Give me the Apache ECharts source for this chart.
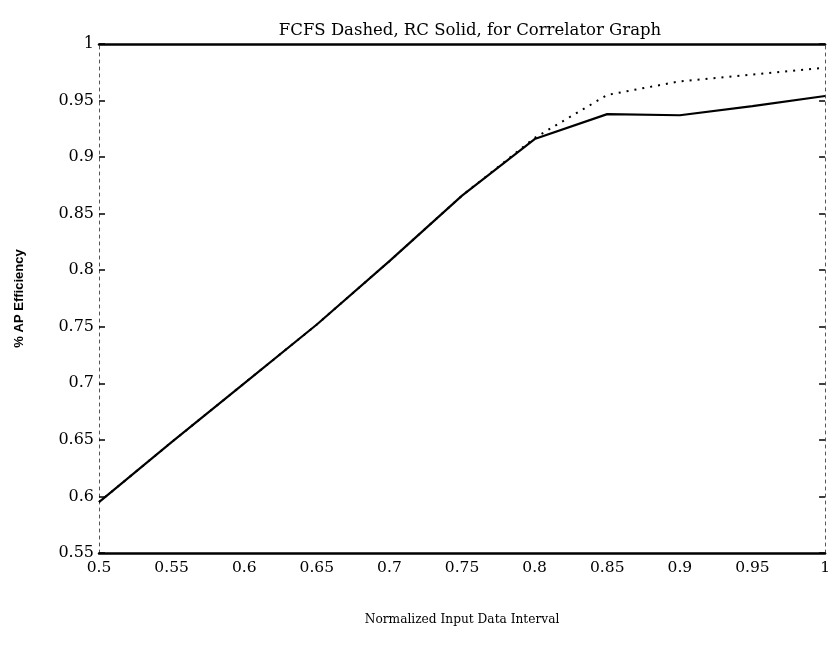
<!DOCTYPE html>
<html>
<head>
<meta charset="utf-8">
<script src="https://cdn.jsdelivr.net/npm/echarts@6/dist/echarts.min.js"></script>
<style>
html,body{margin:0;padding:0;background:#fff;}
#chart{width:833px;height:662px;}
</style>
</head>
<body>
<div id="chart"></div>
<script>
var xValues = [0.5, 0.55, 0.6, 0.65, 0.7, 0.75, 0.8, 0.85, 0.9, 0.95, 1.0];
var rcSolid = [0.595, 0.648, 0.700, 0.752, 0.808, 0.866, 0.916, 0.938, 0.937, 0.945, 0.954];
var fcfsDashed = [0.595, 0.648, 0.700, 0.752, 0.808, 0.866, 0.917, 0.955, 0.967, 0.973, 0.979];
var xTickLabels = ['0.5','0.55','0.6','0.65','0.7','0.75','0.8','0.85','0.9','0.95','1'];
var yTickLabels = ['0.55','0.6','0.65','0.7','0.75','0.8','0.85','0.9','0.95','1'];

function pairs(xs, ys){ return xs.map(function(x,i){ return [x, ys[i]]; }); }
function xLab(v){ var i = Math.round((v-0.5)/0.05); return xTickLabels[i] || ''; }
function yLab(v){ var i = Math.round((v-0.55)/0.05); return yTickLabels[i] || ''; }

var serif = 'DejaVu Serif';
var chart = echarts.init(document.getElementById('chart'), null, {renderer:'canvas'});
chart.setOption({
  animation: false,
  backgroundColor: '#fff',
  title: {
    text: 'FCFS Dashed, RC Solid, for Correlator Graph',
    left: 465, top: 17, textAlign: 'center',
    textStyle: {fontFamily: serif, fontSize: 16.5, fontWeight: 'normal', color: '#000'}
  },
  grid: {left: 99, right: 2, top: 44, bottom: 109},
  xAxis: [{
    type: 'value', min: 0.5, max: 1.0, interval: 0.05, position: 'bottom',
    name: 'Normalized Input Data Interval', nameLocation: 'middle', nameGap: 61,
    nameTextStyle: {fontFamily: serif, fontSize: 12.2, color: '#000'},
    axisLine: {show: true, lineStyle: {color: '#000', width: 2.5}},
    axisTick: {show: false},
    splitLine: {show: false},
    axisLabel: {formatter: xLab, fontFamily: serif, fontSize: 15.5, color: '#000', margin: 7}
  },{
    type: 'value', min: 0.5, max: 1.0, interval: 0.05, position: 'top',
    axisLine: {show: true, lineStyle: {color: '#000', width: 2.5}},
    axisTick: {show: false}, axisLabel: {show: false}, splitLine: {show: false}
  }],
  yAxis: [{
    type: 'value', min: 0.55, max: 1.0, interval: 0.05, position: 'left',
    name: '% AP Efficiency', nameLocation: 'middle', nameGap: 73,
    nameTextStyle: {fontFamily: 'Liberation Sans', fontSize: 13, fontWeight: 'bold', color: '#000'},
    axisLine: {show: true, lineStyle: {color: '#555', width: 1, type: [3,4]}},
    axisTick: {show: true, inside: true, length: 6, lineStyle: {color: '#000', width: 1.5}},
    splitLine: {show: false},
    axisLabel: {formatter: yLab, fontFamily: serif, fontSize: 16, color: '#000', margin: 5}
  },{
    type: 'value', min: 0.55, max: 1.0, interval: 0.05, position: 'right',
    axisLine: {show: true, lineStyle: {color: '#555', width: 1, type: [3,4]}},
    axisTick: {show: true, inside: true, length: 6, lineStyle: {color: '#000', width: 1.5}},
    axisLabel: {show: false}, splitLine: {show: false}
  }],
  series: [{
    name: 'FCFS', type: 'line', data: pairs(xValues, fcfsDashed),
    showSymbol: false, symbol: 'none', z: 2,
    lineStyle: {color: '#000', width: 2, type: [2,6]}
  },{
    name: 'RC', type: 'line', data: pairs(xValues, rcSolid),
    showSymbol: false, symbol: 'none', z: 3,
    lineStyle: {color: '#000', width: 2.2}
  }]
});
</script>
</body>
</html>
